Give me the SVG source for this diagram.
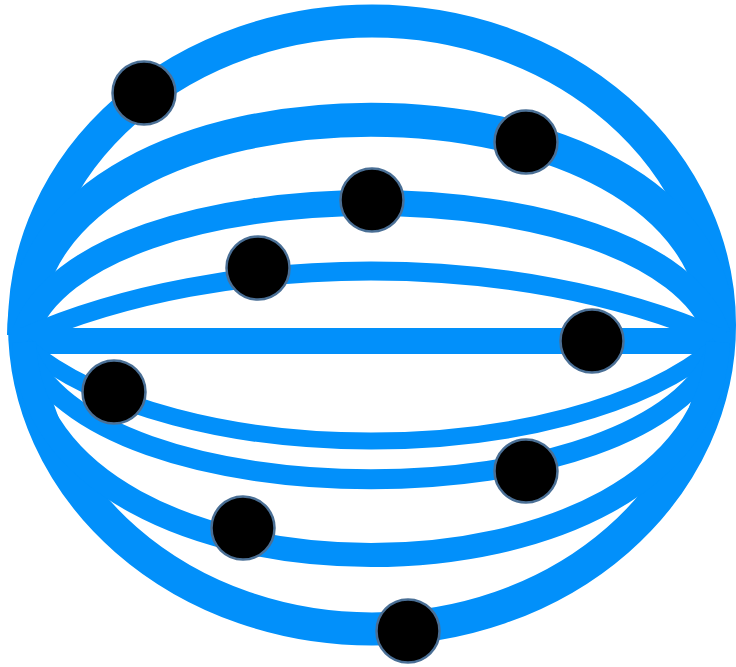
<svg xmlns="http://www.w3.org/2000/svg" width="736" height="667" viewBox="0 0 736 667">
<style>
.band{fill:none;stroke:#0290fa;}
.dot{fill:#000;stroke:#4a6f95;stroke-width:2.5;}
</style>
<rect width="736" height="667" fill="#fff"/>
<g id="connectors">
<ellipse class="band" cx="372" cy="325" rx="347.5" ry="304" stroke-width="33"/>
<path class="band" d="M24 335 C24 48 718 48 718 335" stroke-width="34"/>
<path class="band" d="M24 335 C84 159 658 159 718 335" stroke-width="26"/>
<path class="band" d="M24 337 C224 249 518 249 718 337" stroke-width="19"/>
<line class="band" x1="10" y1="341" x2="726" y2="341" stroke-width="26"/>
<path class="band" d="M24 345 C174 473 568 473 718 345" stroke-width="17"/>
<path class="band" d="M24 345 C84 524 658 524 718 345" stroke-width="20"/>
<path class="band" d="M24 342 C34 626 708 626 718 342" stroke-width="24"/>
</g>
<g id="n1"><circle class="dot" cx="144" cy="93" r="31.5"/></g>
<g id="n2"><circle class="dot" cx="526" cy="142" r="31.5"/></g>
<g id="n3"><circle class="dot" cx="372" cy="200" r="31.5"/></g>
<g id="n4"><circle class="dot" cx="258" cy="268" r="31.5"/></g>
<g id="n5"><circle class="dot" cx="592" cy="341" r="31.5"/></g>
<g id="n6"><circle class="dot" cx="114" cy="392" r="31.5"/></g>
<g id="n7"><circle class="dot" cx="526" cy="471" r="31.5"/></g>
<g id="n8"><circle class="dot" cx="243" cy="528" r="31.5"/></g>
<g id="n9"><circle class="dot" cx="408" cy="631" r="31.5"/></g>
</svg>
